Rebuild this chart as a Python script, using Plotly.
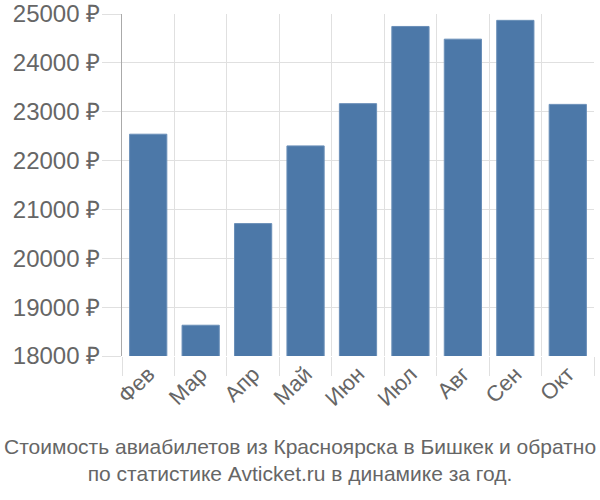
import plotly.graph_objects as go

months = ["Фев", "Мар", "Апр", "Май", "Июн", "Июл", "Авг", "Сен", "Окт"]
prices = [22540, 18630, 20710, 22300, 23165, 24745, 24485, 24870, 23150]
y_ticks = [18000, 19000, 20000, 21000, 22000, 23000, 24000, 25000]
y_labels = [f"{v} ₽" for v in y_ticks]
title_lines = ["Стоимость авиабилетов из Красноярска в Бишкек и обратно",
               "по статистике Avticket.ru в динамике за год."]

fig = go.Figure(go.Bar(
    x=months, y=prices,
    marker=dict(color="#4c78a8", line=dict(color="#6a8fb8", width=1)),
))

fig.update_layout(
    width=600, height=500,
    margin=dict(l=122, r=6, t=14, b=144, autoexpand=False),
    paper_bgcolor="white", plot_bgcolor="white",
    bargap=0.29,
    showlegend=False,
    font=dict(family="Liberation Sans, Arial, sans-serif", color="#666666"),
    annotations=[dict(
        text="<br>".join(title_lines),
        xref="paper", yref="paper", x=0.5 - (122 - 6) / 2 / 472, y=0,
        xanchor="center", yanchor="top", yshift=-77,
        showarrow=False, align="center",
        font=dict(size=21, color="#666666", family="Liberation Sans Narrow, Liberation Sans, sans-serif"),
    )],
)

fig.update_xaxes(
    type="category", tickson="boundaries", automargin=False,
    showgrid=True, gridcolor="#e0e0e0", gridwidth=1,
    ticks="outside", ticklen=19, tickcolor="#e0e0e0",
    tickangle=-45, tickfont=dict(size=22, color="#666666"),
    showline=False, mirror=False,
)
fig.update_yaxes(
    range=[18000, 25000], tickvals=y_ticks, ticktext=y_labels, automargin=False,
    showgrid=True, gridcolor="#e0e0e0", gridwidth=1,
    ticks="outside", ticklen=19, tickcolor="#e0e0e0", ticklabelstandoff=-3,
    tickfont=dict(size=24, color="#666666"),
    showline=True, linecolor="#aaaaaa", linewidth=1,
    zeroline=False,
)

fig.write_html("out.html")
